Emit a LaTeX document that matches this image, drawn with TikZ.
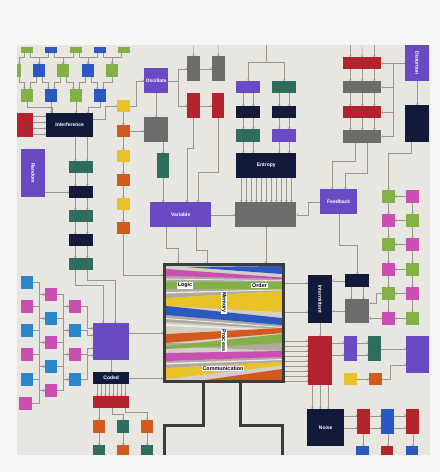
\documentclass[tikz,border=0pt]{standalone}
\usepackage{fontspec}
\setsansfont{Liberation Sans}
\usepackage{xcolor}
\usetikzlibrary{arrows.meta}
\definecolor{bgc}{HTML}{F6F6F4}
\definecolor{paper}{HTML}{E8E6E1}
\definecolor{cgreen}{HTML}{84B147}
\definecolor{cblue}{HTML}{2C59C0}
\definecolor{lblue}{HTML}{2A88C8}
\definecolor{cred}{HTML}{B3232B}
\definecolor{navy}{HTML}{111A3B}
\definecolor{cpurple}{HTML}{6A4AC3}
\definecolor{cgrey}{HTML}{6C6C6A}
\definecolor{cteal}{HTML}{2F6E5F}
\definecolor{cyellow}{HTML}{E9C227}
\definecolor{corange}{HTML}{D35A1F}
\definecolor{cmag}{HTML}{C94FB2}
\definecolor{wirec}{HTML}{9C968C}
\definecolor{frame}{HTML}{3B3B3B}
\definecolor{boxbg}{HTML}{D3CFC6}
\definecolor{streak}{HTML}{AFAAA0}
\definecolor{sheen}{HTML}{EEEBE5}
\newcommand{\boxfont}{\fontsize{5}{6}\selectfont\sffamily\bfseries}
\newcommand{\tagfont}{\fontsize{5.4}{6}\selectfont\sffamily\bfseries}

\begin{document}
\begin{tikzpicture}[x=1pt,y=-1pt,
  bx/.style={fill=#1,anchor=north west,inner sep=0pt,minimum width=12.5pt,minimum height=12.5pt,text=white,font=\boxfont},
  boxlab/.style={text=white,font=\boxfont,inner sep=0pt},
  wire/.style={draw=wirec,line width=0.4pt,-{Straight Barb[length=1.3pt,width=2.4pt]}},
  tag/.style={fill=white,text=black,inner sep=0.7pt,font=\tagfont},
  leg/.style={draw=frame,line width=3pt}]
\useasboundingbox (0,0) rectangle (440,472);
\fill[bgc] (0,0) rectangle (440,472);
\fill[paper] (17,45) rectangle (430,455);
% top left grid
\node[bx=cgreen,minimum width=12pt,minimum height=6pt] (a1) at (21,47) {};
\node[bx=cblue,minimum width=12pt,minimum height=6pt] (a2) at (45,47) {};
\node[bx=cgreen,minimum width=12pt,minimum height=6pt] (a3) at (70,47) {};
\node[bx=cblue,minimum width=12pt,minimum height=6pt] (a4) at (94,47) {};
\node[bx=cgreen,minimum width=12pt,minimum height=6pt] (a5) at (118,47) {};
\node[bx=cgreen,minimum width=4pt,minimum height=13pt] (b0) at (17,64) {};
\node[bx=cblue,minimum width=12pt,minimum height=13pt] (b1) at (33,64) {};
\node[bx=cgreen,minimum width=12pt,minimum height=13pt] (b2) at (57,64) {};
\node[bx=cblue,minimum width=12pt,minimum height=13pt] (b3) at (82,64) {};
\node[bx=cgreen,minimum width=12pt,minimum height=13pt] (b4) at (106,64) {};
\node[bx=cgreen,minimum width=12pt] (c1) at (21,89) {};
\node[bx=cblue,minimum width=12pt] (c2) at (45,89) {};
\node[bx=cgreen,minimum width=12pt] (c3) at (70,89) {};
\node[bx=cblue,minimum width=12pt] (c4) at (94,89) {};
\node[bx=cred,minimum width=16pt,minimum height=24pt] (rb) at (17,113) {};
\node[bx=navy,minimum width=47pt,minimum height=24pt] (int) at (46,113) {Interference};
\node[bx=cpurple,minimum width=24pt,minimum height=48pt,label={[boxlab,rotate=-90]center:Random}] (rnd) at (21,149) {};
\node[bx=cteal,minimum width=24pt,minimum height=12pt] (t1) at (69,161) {};
\node[bx=navy,minimum width=24pt,minimum height=12pt] (n1) at (69,186) {};
\node[bx=cteal,minimum width=24pt,minimum height=12pt] (t2) at (69,210) {};
\node[bx=navy,minimum width=24pt,minimum height=12pt] (n2) at (69,234) {};
\node[bx=cteal,minimum width=24pt,minimum height=12pt] (t3) at (69,258) {};
\node[bx=cyellow,minimum height=12pt] (y1) at (117,100) {};
\node[bx=corange,minimum height=12pt] (o1) at (117,125) {};
\node[bx=cyellow,minimum height=12pt] (y2) at (117,150) {};
\node[bx=corange,minimum height=12pt] (o2) at (117,174) {};
\node[bx=cyellow,minimum height=12pt] (y3) at (117,198) {};
\node[bx=corange,minimum height=12pt] (o3) at (117,222) {};
% top middle
\node[bx=cpurple,minimum width=24pt,minimum height=25pt] (osc) at (144,68) {Oscillate};
\node[bx=cgrey,minimum width=24pt,minimum height=25pt] (gsq) at (144,117) {};
\node[bx=cteal,minimum width=11.5pt,minimum height=25pt] (ts) at (157,153) {};
\node[bx=cgrey,minimum width=13pt,minimum height=25pt] (gt1) at (187,56) {};
\node[bx=cgrey,minimum width=12.5pt,minimum height=25pt] (gt2) at (212,56) {};
\node[bx=cred,minimum width=12.5pt,minimum height=25pt] (rt1) at (187,93) {};
\node[bx=cred,minimum width=12pt,minimum height=25pt] (rt2) at (212,93) {};
\node[bx=cpurple,minimum width=61pt,minimum height=25pt] (var) at (150,202) {Variable};
\node[bx=cgrey,minimum width=61pt,minimum height=25pt] (gw) at (235,202) {};
\node[bx=navy,minimum width=60pt,minimum height=25pt] (ent) at (236,153) {Entropy};
\node[bx=cpurple,minimum width=24pt,minimum height=12pt] (p1) at (236,81) {};
\node[bx=cteal,minimum width=24pt,minimum height=12pt] (q1) at (272,81) {};
\node[bx=navy,minimum width=24pt,minimum height=12pt] (m1) at (236,106) {};
\node[bx=navy,minimum width=24pt,minimum height=12pt] (m2) at (272,106) {};
\node[bx=cteal,minimum width=24pt,minimum height=12.5pt] (p3) at (236,129) {};
\node[bx=cpurple,minimum width=24pt,minimum height=12.5pt] (q3) at (272,129) {};
% top right
\node[bx=cred,minimum width=38pt,minimum height=12pt] (r1) at (343,57) {};
\node[bx=cgrey,minimum width=38pt,minimum height=12pt] (r2) at (343,81) {};
\node[bx=cred,minimum width=38pt,minimum height=12pt] (r3) at (343,106) {};
\node[bx=cgrey,minimum width=38pt,minimum height=12.5pt] (r4) at (343,130) {};
\node[bx=cpurple,minimum width=24pt,minimum height=36pt,label={[boxlab,rotate=-90]center:Distortion}] (dst) at (405,45) {};
\node[bx=navy,minimum width=24pt,minimum height=37pt] (nvr) at (405,105) {};
\node[bx=cpurple,minimum width=37pt,minimum height=25pt] (fb) at (320,189) {Feedback};
\node[bx=cgreen] (k1a) at (382,190) {};
\node[bx=cmag] (k1b) at (406,190) {};
\node[bx=cmag] (k2a) at (382,214) {};
\node[bx=cgreen] (k2b) at (406,214) {};
\node[bx=cgreen] (k3a) at (382,238) {};
\node[bx=cmag] (k3b) at (406,238) {};
\node[bx=cmag] (k4a) at (382,263) {};
\node[bx=cgreen] (k4b) at (406,263) {};
\node[bx=cgreen] (k5a) at (382,287) {};
\node[bx=cmag] (k5b) at (406,287) {};
\node[bx=cmag] (k6a) at (382,312) {};
\node[bx=cgreen] (k6b) at (406,312) {};
% bottom right
\node[bx=navy,minimum width=24pt,minimum height=13pt] (ns) at (345,274) {};
\node[bx=cgrey,minimum width=24pt,minimum height=24pt] (gm) at (345,299) {};
\node[bx=navy,minimum width=24pt,minimum height=48pt,label={[boxlab,rotate=-90]center:Intermittent}] (itm) at (308,275) {};
\node[bx=cred,minimum width=24pt,minimum height=49pt] (rtl) at (308,336) {};
\node[bx=cpurple,minimum width=13pt,minimum height=25pt] (ps) at (344,336) {};
\node[bx=cteal,minimum width=13pt,minimum height=25pt] (tsm) at (368,336) {};
\node[bx=cpurple,minimum width=23pt,minimum height=37pt] (pb2) at (406,336) {};
\node[bx=cyellow,minimum width=13pt,minimum height=12pt] (ys) at (344,373) {};
\node[bx=corange,minimum width=13pt,minimum height=12pt] (os) at (369,373) {};
\node[bx=navy,minimum width=37pt,minimum height=37pt] (noise) at (307,409) {Noise};
\node[bx=cred,minimum height=25pt] (e1) at (357,409) {};
\node[bx=cblue,minimum width=13pt,minimum height=25pt] (e2) at (381,409) {};
\node[bx=cred,minimum width=13pt,minimum height=25pt] (e3) at (406,409) {};
\node[bx=cblue,minimum width=13pt,minimum height=9pt] (f1) at (356,446) {};
\node[bx=cred,minimum width=12pt,minimum height=9pt] (f2) at (381,446) {};
\node[bx=cblue,minimum width=12pt,minimum height=9pt] (f3) at (406,446) {};
% bottom left grid
\node[bx=lblue,minimum width=12pt] (g11) at (21,276) {};
\node[bx=cmag,minimum width=12pt] (g12) at (21,300) {};
\node[bx=lblue,minimum width=12pt] (g13) at (21,324) {};
\node[bx=cmag,minimum width=12pt] (g14) at (21,348) {};
\node[bx=lblue,minimum width=12pt] (g15) at (21,373) {};
\node[bx=cmag,minimum width=13pt] (g16) at (19,397) {};
\node[bx=cmag,minimum width=12pt] (g21) at (45,288) {};
\node[bx=lblue,minimum width=12pt] (g22) at (45,312) {};
\node[bx=cmag,minimum width=12pt] (g23) at (45,336) {};
\node[bx=lblue,minimum width=12pt] (g24) at (45,360) {};
\node[bx=cmag,minimum width=12pt] (g25) at (45,384) {};
\node[bx=cmag,minimum width=12pt] (g31) at (69,300) {};
\node[bx=lblue,minimum width=12pt] (g32) at (69,324) {};
\node[bx=cmag,minimum width=12pt] (g33) at (69,348) {};
\node[bx=lblue,minimum width=12pt] (g34) at (69,373) {};
\node[bx=cpurple,minimum width=36pt,minimum height=37pt] (pbl) at (93,323) {};
\node[bx=navy,minimum width=36pt,minimum height=12pt] (cod) at (93,372) {Coded};
\node[bx=cred,minimum width=36pt,minimum height=12pt] (rdl) at (93,396) {};
\node[bx=corange,minimum width=12pt,minimum height=13pt] (h1) at (93,420) {};
\node[bx=cteal,minimum width=12pt,minimum height=13pt] (h2) at (117,420) {};
\node[bx=corange,minimum width=12pt,minimum height=13pt] (h3) at (141,420) {};
\node[bx=cteal,minimum width=12pt,minimum height=10pt] (i1) at (93,445) {};
\node[bx=corange,minimum width=12pt,minimum height=10pt] (i2) at (117,445) {};
\node[bx=cteal,minimum width=12pt,minimum height=10pt] (i3) at (141,445) {};
% centre box
\begin{scope}
\clip (166,266) rectangle (282,380);
\fill[boxbg] (166,266) rectangle (282,380);
\fill[streak] (166,276) -- (282,279) -- (282,282) -- (166,282) -- cycle;
\fill[streak] (166,289) -- (282,288.5) -- (282,291) -- (166,298) -- cycle;
\fill[streak] (166,315) -- (282,325) -- (282,329) -- (166,322) -- cycle;
\fill[streak] (166,343) -- (282,343) -- (282,351) -- (166,346) -- cycle;
\fill[streak] (166,361) -- (282,357) -- (282,362) -- (166,368) -- cycle;
\fill[sheen] (166,278.5) -- (282,280.5) -- (282,281) -- (166,279.5) -- cycle;
\fill[sheen] (166,292) -- (282,289.5) -- (282,290.2) -- (166,293.5) -- cycle;
\fill[sheen] (166,318) -- (282,327) -- (282,327.8) -- (166,319) -- cycle;
\fill[sheen] (166,324) -- (282,330) -- (282,331) -- (166,326) -- cycle;
\fill[sheen] (166,363) -- (282,359) -- (282,360) -- (166,364.5) -- cycle;
\fill[cmag] (166,269) -- (282,277.5) -- (282,279) -- (166,276) -- cycle;
\fill[cblue] (186,267) -- (282,266) -- (282,274) -- cycle;
\fill[cgreen] (166,282) rectangle (282,288.5);
\fill[cyellow] (166,298) -- (282,291) -- (282,312) -- (166,306) -- cycle;
\fill[cblue] (166,306) -- (282,318) -- (282,325) -- (166,315) -- cycle;
\fill[corange] (166,334) -- (282,328) -- (282,333) -- (166,343) -- cycle;
\fill[cgreen] (166,346) -- (282,334) -- (282,343) -- (166,349) -- cycle;
\fill[cmag] (166,353) -- (282,351) -- (282,357) -- (166,361) -- cycle;
\fill[cyellow] (166,368) -- (282,362) -- (282,365.5) -- (166,379) -- cycle;
\fill[corange] (205,380) -- (282,369) -- (282,380) -- cycle;
\end{scope}
\node[draw=frame,line width=3pt,minimum width=119pt,minimum height=117pt,inner sep=0pt] (cb) at (224,323) {};
\node[tag] (lg) at (185,285.5) {Logic};
\node[tag] (od) at (259.5,285.5) {Order};
\node[tag,rotate=-90] (mem) at (224,302.5) {Memory};
\node[tag,rotate=-90] (prc) at (224,340.5) {Process};
\node[tag] (com) at (223,368.5) {Communication};
\coordinate (legl) at (164,455);
\coordinate (legr) at (282,455);
\draw[leg] ([xshift=-21pt]cb.south) -- ++(0,42) -| (legl);
\draw[leg] ([xshift=16pt]cb.south) -- ++(0,42) -| (legr);
% free ends at the top edge
\coordinate (top1) at (193.5,45);
\coordinate (top2) at (218,45);
\coordinate (top3) at (266,45);
\coordinate (top4) at (362,45);
% wires, top left
\draw[wire] ([xshift=-3pt]a1.south) -- ++(0,4) -| (b0.north);
\draw[wire] ([xshift=3pt]a1.south) -- ++(0,4) -| (b1.north);
\draw[wire] ([xshift=-3pt]a2.south) -- ++(0,4) -| (b1.north);
\draw[wire] ([xshift=3pt]a2.south) -- ++(0,4) -| (b2.north);
\draw[wire] ([xshift=-3pt]a3.south) -- ++(0,4) -| (b2.north);
\draw[wire] ([xshift=3pt]a3.south) -- ++(0,4) -| (b3.north);
\draw[wire] ([xshift=-3pt]a4.south) -- ++(0,4) -| (b3.north);
\draw[wire] ([xshift=3pt]a4.south) -- ++(0,4) -| (b4.north);
\draw[wire] ([xshift=-3pt]a5.south) -- ++(0,4) -| (b4.north);
\draw[wire] (b0.south) -- ++(0,5) -| ([xshift=-3pt]c1.north);
\draw[wire] ([xshift=-3pt]b1.south) -- ++(0,5) -| ([xshift=3pt]c1.north);
\draw[wire] ([xshift=3pt]b1.south) -- ++(0,5) -| ([xshift=-3pt]c2.north);
\draw[wire] ([xshift=-3pt]b2.south) -- ++(0,5) -| ([xshift=3pt]c2.north);
\draw[wire] ([xshift=3pt]b2.south) -- ++(0,5) -| ([xshift=-3pt]c3.north);
\draw[wire] ([xshift=-3pt]b3.south) -- ++(0,5) -| ([xshift=3pt]c3.north);
\draw[wire] ([xshift=3pt]b3.south) -- ++(0,5) -| ([xshift=-3pt]c4.north);
\draw[wire] (b4.south) -- ++(0,5) -| ([xshift=3pt]c4.north);
\draw[wire] (c1.south) -- ++(0,5) -| ([xshift=-18pt]int.north);
\draw[wire] (c2.south) -- (c2.south |- int.north);
\draw[wire] (c3.south) -- (c3.south |- int.north);
\draw[wire] (c4.south) -- ++(0,5) -| ([xshift=18pt]int.north);
\draw[wire] ([yshift=9pt]rb.east) -- ([yshift=9pt]int.west);
\draw[wire] ([yshift=3pt]rb.east) -- ([yshift=3pt]int.west);
\draw[wire] ([yshift=-3pt]rb.east) -- ([yshift=-3pt]int.west);
\draw[wire] ([yshift=-9pt]rb.east) -- ([yshift=-9pt]int.west);
\draw[wire] ([yshift=6pt]int.east) -- ++(12,0) |- (y1.west);
\draw[wire] (y1.east) -- ++(6,0) |- (osc.west);
\draw[wire] ([xshift=-6pt]t1.north |- int.south) -- ([xshift=-6pt]t1.north);
\draw[wire] ([xshift=6pt]t1.north |- int.south) -- ([xshift=6pt]t1.north);
\draw[wire] (rnd.east |- n1.west) -- (n1.west);
\draw[wire] ([xshift=-6pt]t1.south) -- ([xshift=-6pt]n1.north);
\draw[wire] ([xshift=6pt]t1.south) -- ([xshift=6pt]n1.north);
\draw[wire] ([xshift=-6pt]n1.south) -- ([xshift=-6pt]t2.north);
\draw[wire] ([xshift=6pt]n1.south) -- ([xshift=6pt]t2.north);
\draw[wire] ([xshift=-6pt]t2.south) -- ([xshift=-6pt]n2.north);
\draw[wire] ([xshift=6pt]t2.south) -- ([xshift=6pt]n2.north);
\draw[wire] ([xshift=-6pt]n2.south) -- ([xshift=-6pt]t3.north);
\draw[wire] ([xshift=6pt]n2.south) -- ([xshift=6pt]t3.north);
\draw[wire] (y1.south) -- (o1.north);
\draw[wire] (o1.south) -- (y2.north);
\draw[wire] (y2.south) -- (o2.north);
\draw[wire] (o2.south) -- (y3.north);
\draw[wire] (y3.south) -- (o3.north);
\draw[wire] (o1.east) -- (o1.east -| gsq.west);
\draw[wire] (o3.south) |- ([yshift=48pt]cb.west);
% wires, top middle
\draw[wire] (osc.south) -- (gsq.north);
\draw[wire] (ts.north |- gsq.south) -- (ts.north);
\draw[wire] (ts.south) -- (ts.south |- var.north);
\draw[wire] (osc.east) -- ++(10,0) |- (gt1.west);
\draw[wire] (osc.east) -- ++(10,0) |- (rt1.west);
\draw[wire] (gt1.east) -- (gt2.west);
\draw[wire] (rt1.east) -- (rt2.west);
\draw[wire] (top1) -- (gt1.north);
\draw[wire] (top2) -- (gt2.north);
\draw[wire] (rt1.south) -- ++(0,30) -| ([xshift=6pt]var.north);
\draw[wire] (rt2.south) -- ++(0,54) -| ([xshift=17pt]var.north);
\draw[wire] (var.east) -- (gw.west);
\draw[wire] ([xshift=-25pt]ent.south) -- ([xshift=-25pt]ent.south |- gw.north);
\draw[wire] ([xshift=-20pt]ent.south) -- ([xshift=-20pt]ent.south |- gw.north);
\draw[wire] ([xshift=-15pt]ent.south) -- ([xshift=-15pt]ent.south |- gw.north);
\draw[wire] ([xshift=-10pt]ent.south) -- ([xshift=-10pt]ent.south |- gw.north);
\draw[wire] ([xshift=-5pt]ent.south) -- ([xshift=-5pt]ent.south |- gw.north);
\draw[wire] (ent.south) -- (ent.south |- gw.north);
\draw[wire] ([xshift=5pt]ent.south) -- ([xshift=5pt]ent.south |- gw.north);
\draw[wire] ([xshift=10pt]ent.south) -- ([xshift=10pt]ent.south |- gw.north);
\draw[wire] ([xshift=15pt]ent.south) -- ([xshift=15pt]ent.south |- gw.north);
\draw[wire] ([xshift=20pt]ent.south) -- ([xshift=20pt]ent.south |- gw.north);
\draw[wire] ([xshift=25pt]ent.south) -- ([xshift=25pt]ent.south |- gw.north);
\draw[wire] (top3) -- ++(0,17) -| (p1.north);
\draw[wire] (top3) -- ++(0,17) -| (q1.north);
\draw[wire] ([xshift=-5pt]p1.south) -- ([xshift=-5pt]m1.north);
\draw[wire] ([xshift=5pt]p1.south) -- ([xshift=5pt]m1.north);
\draw[wire] ([xshift=-5pt]q1.south) -- ([xshift=-5pt]m2.north);
\draw[wire] ([xshift=5pt]q1.south) -- ([xshift=5pt]m2.north);
\draw[wire] ([xshift=-5pt]m1.south) -- ([xshift=-5pt]p3.north);
\draw[wire] ([xshift=5pt]m1.south) -- ([xshift=5pt]p3.north);
\draw[wire] ([xshift=-5pt]m2.south) -- ([xshift=-5pt]q3.north);
\draw[wire] ([xshift=5pt]m2.south) -- ([xshift=5pt]q3.north);
\draw[wire] ([xshift=-5pt]p3.south) -- ([xshift=-5pt]p3.south |- ent.north);
\draw[wire] ([xshift=5pt]p3.south) -- ([xshift=5pt]p3.south |- ent.north);
\draw[wire] ([xshift=-5pt]q3.south) -- ([xshift=-5pt]q3.south |- ent.north);
\draw[wire] ([xshift=5pt]q3.south) -- ([xshift=5pt]q3.south |- ent.north);
% wires, top right
\draw[wire] ([xshift=-12pt]r1.north |- top4) -- ([xshift=-12pt]r1.north);
\draw[wire] (top4) -- (r1.north);
\draw[wire] ([xshift=12pt]r1.north |- top4) -- ([xshift=12pt]r1.north);
\draw[wire] ([xshift=-12pt]r1.south) -- ([xshift=-12pt]r2.north);
\draw[wire] (r1.south) -- (r2.north);
\draw[wire] ([xshift=12pt]r1.south) -- ([xshift=12pt]r2.north);
\draw[wire] ([xshift=-12pt]r2.south) -- ([xshift=-12pt]r3.north);
\draw[wire] (r2.south) -- (r3.north);
\draw[wire] ([xshift=12pt]r2.south) -- ([xshift=12pt]r3.north);
\draw[wire] ([xshift=-12pt]r3.south) -- ([xshift=-12pt]r4.north);
\draw[wire] (r3.south) -- (r4.north);
\draw[wire] ([xshift=12pt]r3.south) -- ([xshift=12pt]r4.north);
\draw[wire] (dst.west) -- (r1.east);
\draw[wire] (dst.west) -- ++(-12,0) |- (r2.east);
\draw[wire] (dst.west) -- ++(-12,0) |- (r3.east);
\draw[wire] (dst.west) -- ++(-12,0) |- (r4.east);
\draw[wire] (dst.south) -- (nvr.north);
\draw[wire] ([xshift=-7pt]r4.south) -- ++(0,18) -| ([xshift=-6.5pt]fb.north);
\draw[wire] ([xshift=5pt]r4.south) -- ++(0,30) -| ([xshift=6.5pt]fb.north);
\draw[wire] ([xshift=-6pt]nvr.south) -- ++(0,11) -| (k1a.north);
\draw[wire] (fb.west) -- ++(-12,0) |- (gw.east);
\draw[wire] (fb.south) -- ++(0,31) -| (ns.north);
\draw[wire] (k1b.west) -- (k1a.east);
\draw[wire] (k2b.west) -- (k2a.east);
\draw[wire] (k3b.west) -- (k3a.east);
\draw[wire] (k4b.west) -- (k4a.east);
\draw[wire] (k5b.west) -- (k5a.east);
\draw[wire] (k6b.west) -- (k6a.east);
\draw[wire] (k1a.south) -- (k2a.north);
\draw[wire] (k2a.south) -- (k3a.north);
\draw[wire] (k3a.south) -- (k4a.north);
\draw[wire] (k4a.south) -- (k5a.north);
\draw[wire] (k5a.south) -- (k6a.north);
\draw[wire] (k1b.south) -- (k2b.north);
\draw[wire] (k2b.south) -- (k3b.north);
\draw[wire] (k3b.south) -- (k4b.north);
\draw[wire] (k4b.south) -- (k5b.north);
\draw[wire] (k5b.south) -- (k6b.north);
% wires, bottom right
\draw[wire] ([xshift=-6pt]ns.south) -- ([xshift=-6pt]gm.north);
\draw[wire] ([xshift=6pt]ns.south) -- ([xshift=6pt]gm.north);
\draw[wire] (ns.west) -- (ns.west -| itm.east);
\draw[wire] (gm.west) -- (gm.west -| itm.east);
\draw[wire] (k6a.west) -- (k6a.west -| gm.east);
\draw[wire] (k5a.west) -- ++(-6,0) |- ([yshift=8pt]gm.east);
\draw[wire] ([yshift=16pt]itm.west -| cb.east) -- ([yshift=16pt]itm.west);
\draw[wire] ([yshift=-13pt]itm.west -| cb.east) -- ([yshift=-13pt]itm.west);
\draw[wire] (itm.south) -- (rtl.north);
\draw[wire] ([yshift=20pt]rtl.west -| cb.east) -- ([yshift=20pt]rtl.west);
\draw[wire] ([yshift=15pt]rtl.west -| cb.east) -- ([yshift=15pt]rtl.west);
\draw[wire] ([yshift=10pt]rtl.west -| cb.east) -- ([yshift=10pt]rtl.west);
\draw[wire] ([yshift=5pt]rtl.west -| cb.east) -- ([yshift=5pt]rtl.west);
\draw[wire] (rtl.west -| cb.east) -- (rtl.west);
\draw[wire] ([yshift=-5pt]rtl.west -| cb.east) -- ([yshift=-5pt]rtl.west);
\draw[wire] ([yshift=-10pt]rtl.west -| cb.east) -- ([yshift=-10pt]rtl.west);
\draw[wire] ([yshift=-15pt]rtl.west -| cb.east) -- ([yshift=-15pt]rtl.west);
\draw[wire] ([yshift=-20pt]rtl.west -| cb.east) -- ([yshift=-20pt]rtl.west);
\draw[wire] ([yshift=6pt]ps.west -| rtl.east) -- ([yshift=6pt]ps.west);
\draw[wire] ([yshift=-6pt]ps.west -| rtl.east) -- ([yshift=-6pt]ps.west);
\draw[wire] ([yshift=6pt]ps.east) -- ([yshift=6pt]tsm.west);
\draw[wire] ([yshift=-6pt]ps.east) -- ([yshift=-6pt]tsm.west);
\draw[wire] (tsm.east) -- (tsm.east -| pb2.west);
\draw[wire] (ys.east) -- (os.west);
\draw[wire] (os.east) -- ++(8,0) |- ([yshift=-10pt]pb2.west);
\draw[wire] ([xshift=-8pt]rtl.south) -- ([xshift=-8pt]rtl.south |- noise.north);
\draw[wire] (rtl.south) -- (rtl.south |- noise.north);
\draw[wire] ([xshift=8pt]rtl.south) -- ([xshift=8pt]rtl.south |- noise.north);
\draw[wire] ([yshift=6pt]e1.west -| noise.east) -- ([yshift=6pt]e1.west);
\draw[wire] ([yshift=-6pt]e1.west -| noise.east) -- ([yshift=-6pt]e1.west);
\draw[wire] ([yshift=6pt]e1.east) -- ([yshift=6pt]e2.west);
\draw[wire] ([yshift=-6pt]e1.east) -- ([yshift=-6pt]e2.west);
\draw[wire] ([yshift=6pt]e2.east) -- ([yshift=6pt]e3.west);
\draw[wire] ([yshift=-6pt]e2.east) -- ([yshift=-6pt]e3.west);
\draw[wire] (e1.south) -- (e1.south |- f1.north);
\draw[wire] (e2.south) -- (e2.south |- f2.north);
\draw[wire] (e3.south) -- (e3.south |- f3.north);
% wires, bottom left
\draw[wire] (g11.east) -- ++(6,0) |- (g21.west);
\draw[wire] (g12.east) -- ++(6,0) |- (g21.west);
\draw[wire] (g12.east) -- ++(6,0) |- (g22.west);
\draw[wire] (g13.east) -- ++(6,0) |- (g22.west);
\draw[wire] (g13.east) -- ++(6,0) |- (g23.west);
\draw[wire] (g14.east) -- ++(6,0) |- (g23.west);
\draw[wire] (g14.east) -- ++(6,0) |- (g24.west);
\draw[wire] (g15.east) -- ++(6,0) |- (g24.west);
\draw[wire] (g15.east) -- ++(6,0) |- (g25.west);
\draw[wire] (g16.east) -- ++(7,0) |- (g25.west);
\draw[wire] (g21.east) -- ++(6,0) |- (g31.west);
\draw[wire] (g22.east) -- ++(6,0) |- (g31.west);
\draw[wire] (g22.east) -- ++(6,0) |- (g32.west);
\draw[wire] (g23.east) -- ++(6,0) |- (g32.west);
\draw[wire] (g23.east) -- ++(6,0) |- (g33.west);
\draw[wire] (g24.east) -- ++(6,0) |- (g33.west);
\draw[wire] (g24.east) -- ++(6,0) |- (g34.west);
\draw[wire] (g25.east) -- ++(6,0) |- (g34.west);
\draw[wire] (g31.east) -- ++(6,0) |- ([yshift=13.5pt]pbl.west);
\draw[wire] (g32.east) -- ++(6,0) |- ([yshift=6.5pt]pbl.west);
\draw[wire] (g33.east) -- ++(6,0) |- ([yshift=-6.5pt]pbl.west);
\draw[wire] (g34.east) -- ++(6,0) |- ([yshift=-13.5pt]pbl.west);
\draw[wire] ([xshift=-6pt]t3.south) -- ++(0,15) -| ([xshift=-8pt]pbl.north);
\draw[wire] ([xshift=6pt]t3.south) -- ++(0,10) -| ([xshift=4pt]pbl.north);
\draw[wire] (pbl.south) -- (cod.north);
\draw[wire] ([xshift=-14pt]cod.south) -- ([xshift=-14pt]rdl.north);
\draw[wire] ([xshift=-10pt]cod.south) -- ([xshift=-10pt]rdl.north);
\draw[wire] ([xshift=-6pt]cod.south) -- ([xshift=-6pt]rdl.north);
\draw[wire] ([xshift=-2pt]cod.south) -- ([xshift=-2pt]rdl.north);
\draw[wire] ([xshift=2pt]cod.south) -- ([xshift=2pt]rdl.north);
\draw[wire] ([xshift=6pt]cod.south) -- ([xshift=6pt]rdl.north);
\draw[wire] ([xshift=10pt]cod.south) -- ([xshift=10pt]rdl.north);
\draw[wire] ([xshift=14pt]cod.south) -- ([xshift=14pt]rdl.north);
\draw[wire] ([xshift=-12pt]rdl.south) -- (h1.north);
\draw[wire] ([xshift=1pt]rdl.south) -- ++(0,6) -| (h2.north);
\draw[wire] ([xshift=14pt]rdl.south) -- ++(0,4) -| (h3.north);
\draw[wire] (h1.south) -- (i1.north);
\draw[wire] (h2.south) -- (i2.north);
\draw[wire] (h3.south) -- (i3.north);
\draw[wire] ([yshift=9pt]pbl.east) -- ([yshift=9pt]pbl.east -| cb.west);
\draw[wire] (cod.east) -- (cod.east -| cb.west);
% wires into the centre box
\draw[wire] ([xshift=-15pt]var.south) -- ++(0,21) -| ([xshift=-46pt]cb.north);
\draw[wire] ([xshift=15pt]var.south) -- ++(0,23) -| ([xshift=-17pt]cb.north);
\draw[wire] (gw.south) -- (gw.south |- cb.north);
\end{tikzpicture}
\end{document}
